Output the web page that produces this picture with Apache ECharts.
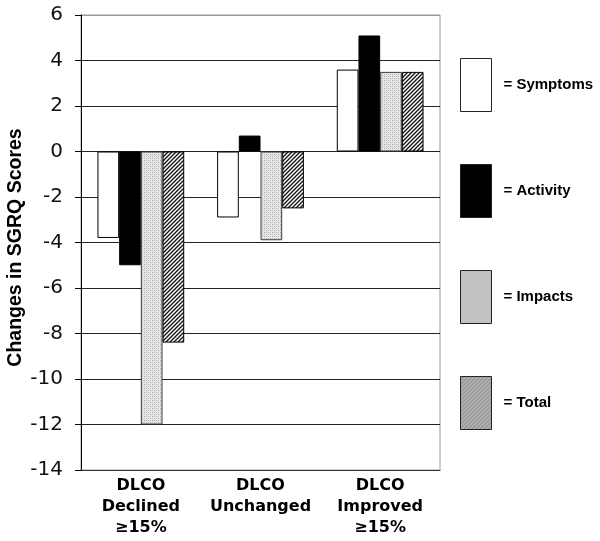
<!DOCTYPE html>
<html>
<head>
<meta charset="utf-8">
<script src="https://cdn.jsdelivr.net/npm/echarts@6/dist/echarts.min.js"></script>
<style>
html,body{margin:0;padding:0;background:#fff;}
#chart{width:600px;height:541px;}
</style>
</head>
<body>
<div id="chart"></div>
<script>
// ---- data ----
const categories = ['DLCO\nDeclined\n≥15%', 'DLCO\nUnchanged', 'DLCO\nImproved\n≥15%'];
const seriesNames = ['Symptoms', 'Activity', 'Impacts', 'Total'];
const symptoms = [-3.8, -2.9, 3.6];
const activity = [-5.0, 0.7, 5.1];
const impacts = [-12.0, -3.9, 3.5];
const total = [-8.4, -2.5, 3.5];
const yMin = -14, yMax = 6, yStep = 2;
const yTitle = 'Changes in SGRQ Scores';

// ---- patterns ----
function dotPattern() {
  const c = document.createElement('canvas');
  c.width = 4; c.height = 4;
  const g = c.getContext('2d');
  g.fillStyle = '#e6e6e6'; g.fillRect(0, 0, 4, 4);
  g.fillStyle = '#a8a8a8';
  g.fillRect(0, 0, 1, 1); g.fillRect(2, 2, 1, 1);
  g.fillStyle = '#c8c8c8';
  g.fillRect(2, 0, 1, 1); g.fillRect(0, 2, 1, 1);
  return c;
}
function hatchPattern(bg, fg, s) {
  const c = document.createElement('canvas');
  c.width = s; c.height = s;
  const g = c.getContext('2d');
  g.fillStyle = bg; g.fillRect(0, 0, s, s);
  g.strokeStyle = fg; g.lineWidth = 1.3;
  g.beginPath();
  g.moveTo(-1, s + 1); g.lineTo(s + 1, -1);
  g.moveTo(-1 - s, s + 1); g.lineTo(1, -1);
  g.moveTo(-1 + s, s + 1); g.lineTo(s + 1 + s, -1);
  g.stroke();
  return c;
}

const gridLineColors = [];
for (let v = yMin; v <= yMax; v += yStep) gridLineColors.push(v === yMax ? '#9a9a9a' : '#222222');

const chart = echarts.init(document.getElementById('chart'), null, {renderer: 'canvas'});
const fills = [
  {color: '#ffffff', borderColor: '#000000'},
  {color: '#000000', borderColor: '#000000'},
  {color: {image: dotPattern(), repeat: 'repeat'}, borderColor: '#3a3a3a'},
  {color: {image: hatchPattern('#ffffff', '#111111', 4), repeat: 'repeat'}, borderColor: '#000000'}
];
const legendFills = [
  '#ffffff',
  '#000000',
  '#c2c2c2',
  {image: hatchPattern('#c4c4c4', '#858585', 4), repeat: 'repeat'}
];
const values = [symptoms, activity, impacts, total];

chart.setOption({
  animation: false,
  backgroundColor: '#ffffff',
  grid: {left: 81, right: 160, top: 15, bottom: 71, outerBoundsMode: 'none', containLabel: false,
         show: true, borderColor: '#9a9a9a', borderWidth: 1, backgroundColor: '#ffffff'},
  legend: {
    orient: 'vertical', left: 460, top: 58, padding: 0,
    itemWidth: 31, itemHeight: 53, itemGap: 52,
    icon: 'rect',
    formatter: '= {name}',
    textStyle: {fontFamily: 'Liberation Sans', fontWeight: 'bold', fontSize: 15, color: '#000', padding: [0, 0, 0, 7]},
    data: seriesNames.map((n, i) => ({name: n, itemStyle: {color: legendFills[i], borderColor: '#222', borderWidth: 1}}))
  },
  xAxis: {
    type: 'category', data: categories,
    axisLine: {onZero: false, lineStyle: {color: '#333', width: 1}},
    axisTick: {show: false},
    axisLabel: {fontFamily: 'DejaVu Sans', fontWeight: 'bold', fontSize: 16, lineHeight: 21, color: '#000', margin: 5, interval: 0}
  },
  yAxis: {
    type: 'value', min: yMin, max: yMax, interval: yStep,
    name: yTitle, nameLocation: 'middle', nameRotate: 90, nameGap: 55, nameMoveOverlap: false,
    nameTextStyle: {fontFamily: 'Liberation Sans', fontWeight: 'bold', fontSize: 19.5, color: '#000', padding: [0, 10, 0, 0]},
    axisLine: {show: true, lineStyle: {color: '#000', width: 1}},
    axisTick: {show: true, length: 6, lineStyle: {color: '#000'}},
    axisLabel: {fontFamily: 'DejaVu Sans', fontSize: 20, color: '#111', margin: 18},
    splitLine: {show: true, lineStyle: {color: gridLineColors, width: 1}}
  },
  series: seriesNames.map((n, i) => ({
    name: n, type: 'bar', data: values[i],
    barGap: '0%', barCategoryGap: '27.5%',
    itemStyle: {color: fills[i].color, borderColor: fills[i].borderColor, borderWidth: 1}
  }))
});
</script>
</body>
</html>
